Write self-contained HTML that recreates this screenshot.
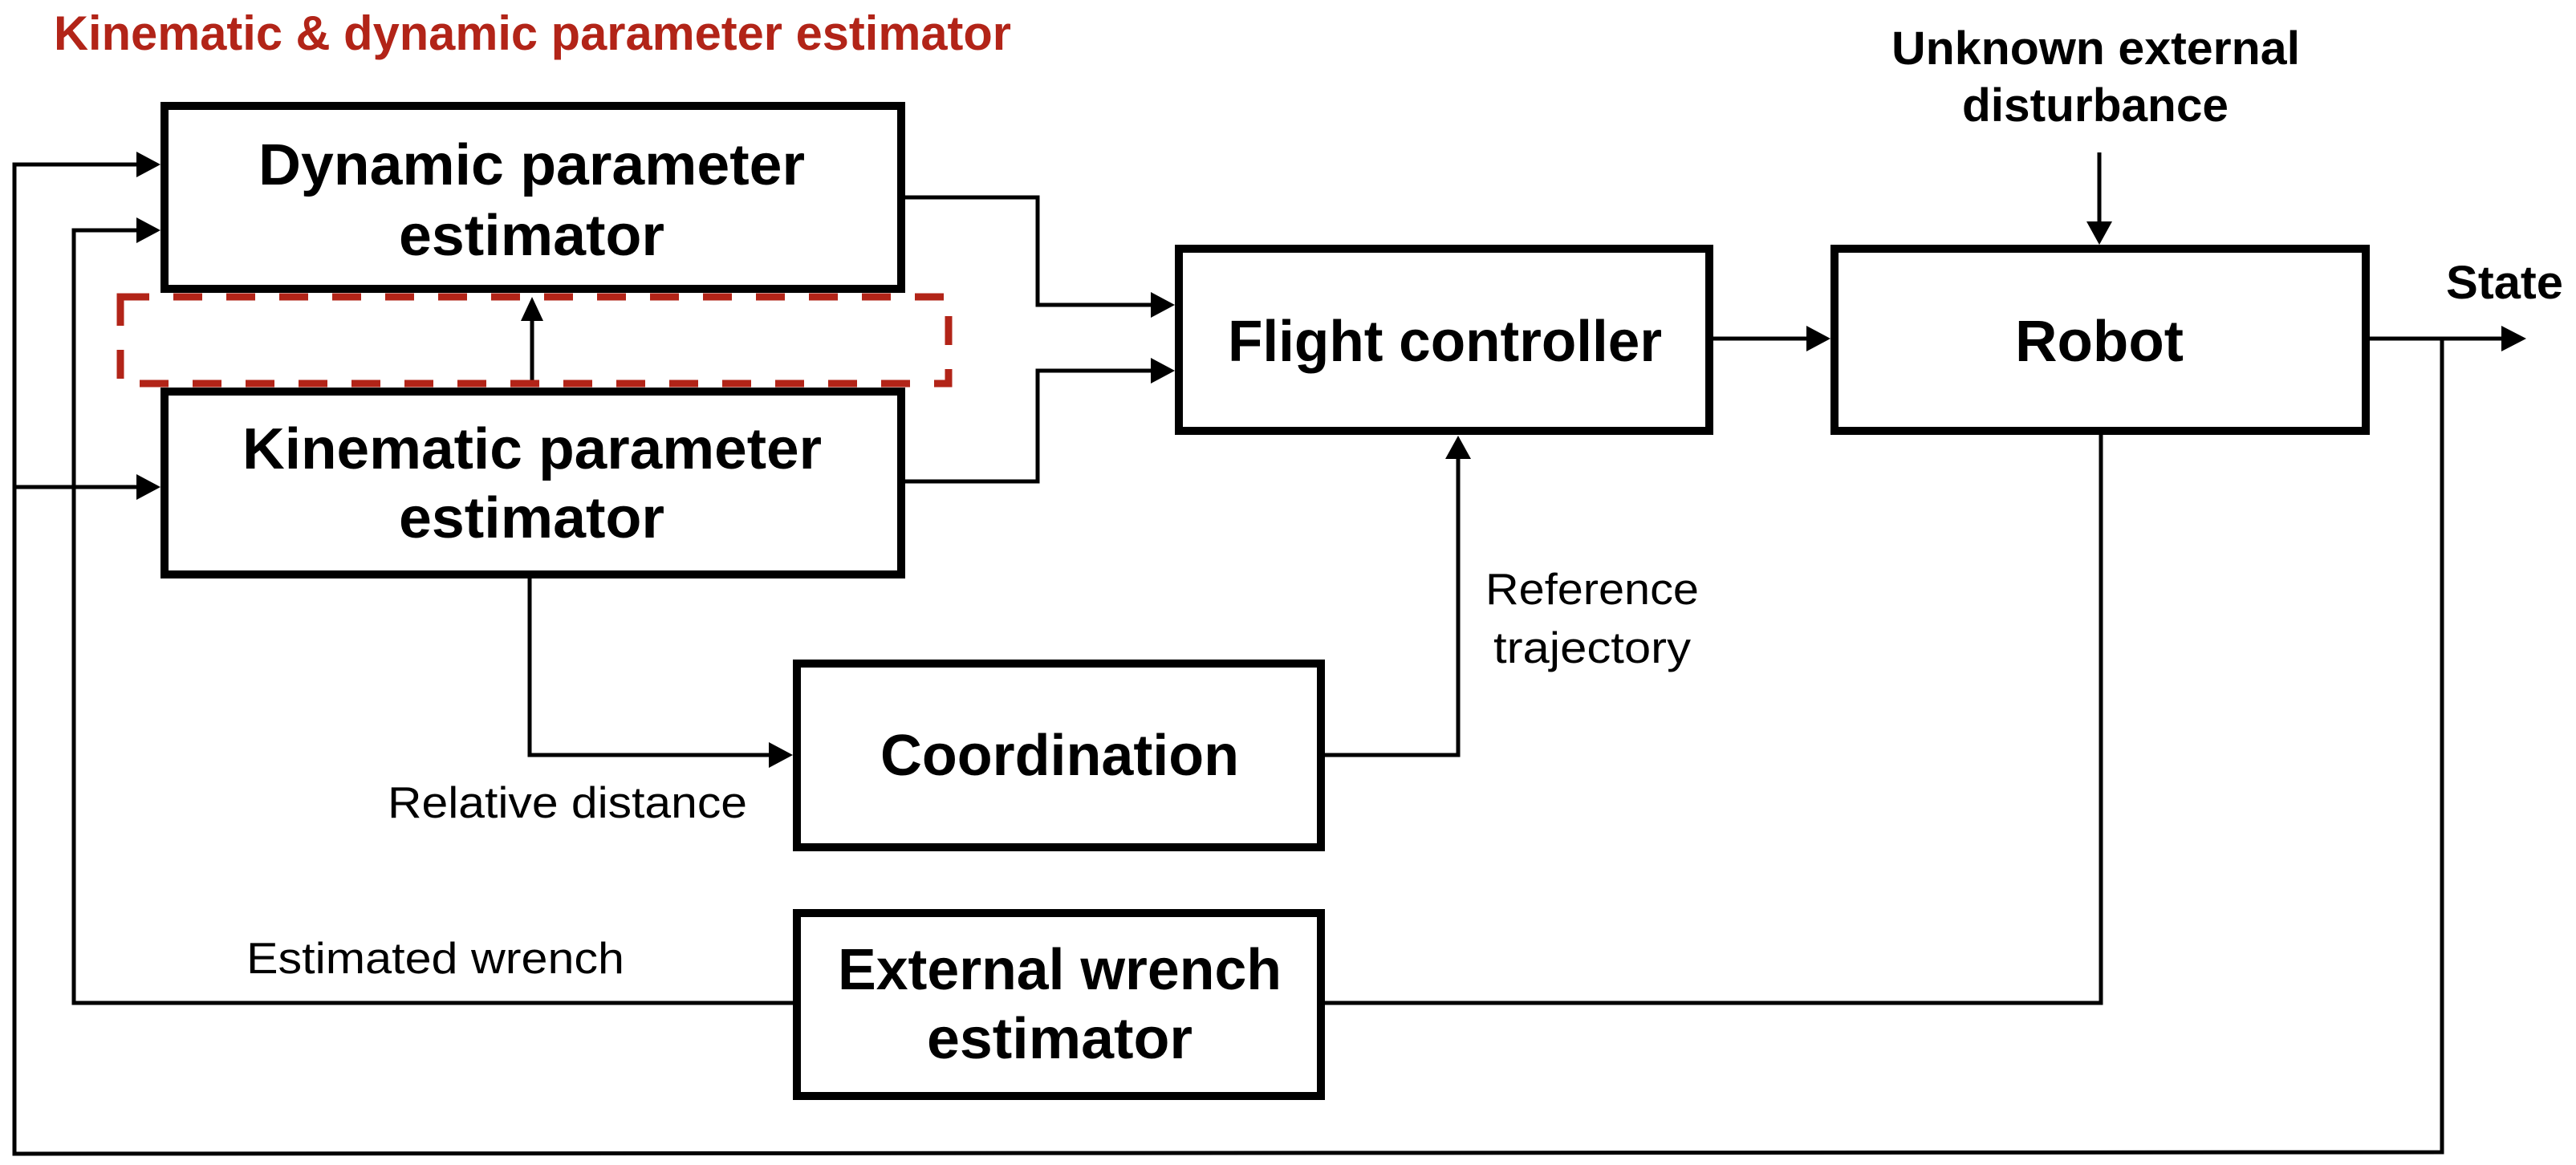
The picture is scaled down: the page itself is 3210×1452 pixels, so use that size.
<!DOCTYPE html>
<html><head><meta charset="utf-8"><style>html,body{margin:0;padding:0;background:#fff}svg{display:block}</style></head>
<body>
<svg width="3210" height="1452" viewBox="0 0 3210 1452" xmlns="http://www.w3.org/2000/svg" font-family="Liberation Sans, Arial, sans-serif">
<g fill="none" stroke="#000" stroke-width="5">
<polyline points="3043,422 3043,1436 18,1438 18,205 170,205"/>
<polyline points="18,607 170,607"/>
<polyline points="2618,542 2618,1250 92,1250 92,287 170,287"/>
<polyline points="1128,246 1293,246 1293,380 1434,380"/>
<polyline points="1128,600 1293,600 1293,462 1434,462"/>
<line x1="2135" y1="422" x2="2252" y2="422"/>
<line x1="2953" y1="422" x2="3118" y2="422"/>
<line x1="2616" y1="190" x2="2616" y2="277"/>
<polyline points="660,720 660,941 960,941"/>
<polyline points="1651,941 1817,941 1817,571"/>
<line x1="663" y1="481" x2="663" y2="398"/>
</g>
<g fill="#000">
<polygon points="200,205 170,189 170,221"/>
<polygon points="200,287 170,271 170,303"/>
<polygon points="200,607 170,591 170,623"/>
<polygon points="1464,380 1434,364 1434,396"/>
<polygon points="1464,462 1434,446 1434,478"/>
<polygon points="2281,422 2251,406 2251,438"/>
<polygon points="3148,422 3117,406 3117,438"/>
<polygon points="2616,305 2600,276 2632,276"/>
<polygon points="988,941 958,925 958,957"/>
<polygon points="1817,543 1801,572 1833,572"/>
<polygon points="663,370 649,400 677,400"/>
</g>
<rect x="150" y="370" width="1032" height="108" fill="none" stroke="#b22418" stroke-width="9" stroke-dasharray="36,30"/>
<g fill="#fff" stroke="#000" stroke-width="10">
<rect x="205" y="132" width="918" height="228"/>
<rect x="205" y="488" width="918" height="228"/>
<rect x="1469" y="310" width="661" height="227"/>
<rect x="2286" y="310" width="662" height="227"/>
<rect x="993" y="827" width="653" height="229"/>
<rect x="993" y="1138" width="653" height="228"/>
</g>
<g fill="#000" font-weight="bold" font-size="72">
<text x="322" y="230" textLength="681" lengthAdjust="spacingAndGlyphs">Dynamic parameter</text>
<text x="497" y="318" textLength="331" lengthAdjust="spacingAndGlyphs">estimator</text>
<text x="302" y="584" textLength="722" lengthAdjust="spacingAndGlyphs">Kinematic parameter</text>
<text x="497" y="670" textLength="331" lengthAdjust="spacingAndGlyphs">estimator</text>
<text x="1530" y="450" textLength="541" lengthAdjust="spacingAndGlyphs">Flight controller</text>
<text x="2511" y="450" textLength="210" lengthAdjust="spacingAndGlyphs">Robot</text>
<text x="1097" y="966" textLength="447" lengthAdjust="spacingAndGlyphs">Coordination</text>
<text x="1044" y="1233" textLength="553" lengthAdjust="spacingAndGlyphs">External wrench</text>
<text x="1155" y="1319" textLength="331" lengthAdjust="spacingAndGlyphs">estimator</text>
</g>
<g fill="#000" font-weight="bold" font-size="58">
<text x="2357" y="80" textLength="509" lengthAdjust="spacingAndGlyphs">Unknown external</text>
<text x="2445" y="151" textLength="332" lengthAdjust="spacingAndGlyphs">disturbance</text>
<text x="3048" y="372" textLength="146" lengthAdjust="spacingAndGlyphs">State</text>
</g>
<text x="67" y="62" fill="#b22418" font-weight="bold" font-size="60" textLength="1193" lengthAdjust="spacingAndGlyphs">Kinematic &amp; dynamic parameter estimator</text>
<g fill="#000" font-size="55">
<text x="483" y="1019" textLength="448" lengthAdjust="spacingAndGlyphs">Relative distance</text>
<text x="307" y="1213" textLength="471" lengthAdjust="spacingAndGlyphs">Estimated wrench</text>
<text x="1851" y="753" textLength="266" lengthAdjust="spacingAndGlyphs">Reference</text>
<text x="1861" y="826" textLength="246" lengthAdjust="spacingAndGlyphs">trajectory</text>
</g>
</svg>
</body></html>
